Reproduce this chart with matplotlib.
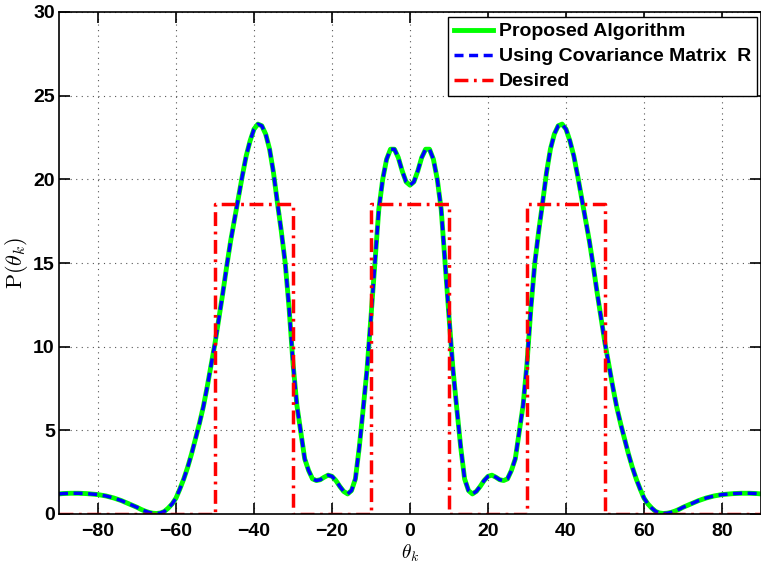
import numpy as np
import matplotlib
matplotlib.use("Agg")
import matplotlib.pyplot as plt

# spatial spectrum, theta = 0..90 deg (curve is symmetric)
theta_half = list(range(0, 91))
p_half = [19.65, 19.85, 20.5, 21.3, 21.8, 21.8, 21.2, 20.0, 18.2, 15.0,
          11.8, 8.7, 6.3, 4.0, 2.1, 1.4, 1.2, 1.35, 1.65, 2.0,
          2.25, 2.32, 2.2, 2.05, 2.0, 2.1, 2.6, 3.3, 4.9, 6.5,
          9.0, 12.3, 15.0, 16.9, 18.6, 20.4, 21.8, 22.7, 23.2, 23.3,
          23.0, 22.3, 21.4, 20.2, 18.9, 17.6, 16.3, 14.8, 13.2, 11.7,
          10.2, 8.9, 7.6, 6.4, 5.4, 4.5, 3.6, 2.8, 2.1, 1.5,
          0.95, 0.6, 0.35, 0.15, 0.06, 0.03, 0.05, 0.1, 0.18, 0.28,
          0.4, 0.5, 0.6, 0.7, 0.8, 0.88, 0.96, 1.02, 1.08, 1.12,
          1.16, 1.18, 1.2, 1.22, 1.23, 1.24, 1.24, 1.24, 1.23, 1.22, 1.2]

# desired pattern: three sectors of height 18.5
sectors = [(-50, -30), (-10, 10), (30, 50)]
desired_level = 18.5

theta = np.array([-t for t in theta_half[:0:-1]] + theta_half)
p_prop = np.array(p_half[:0:-1] + p_half)
p_cov = p_prop.copy()

des_x = [-90]
des_y = [0]
for a, b in sectors:
    des_x += [a, a, b, b]
    des_y += [0, desired_level, desired_level, 0]
des_x.append(90)
des_y.append(0)

plt.rcParams['font.family'] = ['Liberation Sans', 'DejaVu Sans']
plt.rcParams['mathtext.fontset'] = 'cm'

fig = plt.figure(figsize=(7.61, 5.65), dpi=100)
ax = fig.add_axes([59 / 761, 1 - 514 / 565, 702 / 761, 502 / 565])

ax.plot(theta, p_prop, color='#00ff00', lw=3.5, label='Proposed Algorithm')
ax.plot(theta, p_cov, color='#0000ff', lw=2.5, ls=(0, (2.6, 1.6)),
        label='Using Covariance Matrix  R')
ax.plot(des_x, des_y, color='#ff0000', lw=2.5, ls=(0, (4, 1.6, 0.8, 1.6)),
        label='Desired')

ax.set_xlim(-90, 90)
ax.set_ylim(0, 30)
ax.set_xticks([-80, -60, -40, -20, 0, 20, 40, 60, 80])
ax.set_yticks([0, 5, 10, 15, 20, 25, 30])
ax.set_xticklabels(['\u221280', '\u221260', '\u221240', '\u221220', '0',
                    '20', '40', '60', '80'])
ax.grid(True, ls=(0, (1, 4)), color='#555555', lw=0.8)
ax.tick_params(direction='in', length=8, width=1.2, top=True, right=True,
               labelsize=14)
ax.tick_params(axis='x', pad=6.5)
ax.tick_params(axis='y', pad=3)
for lab in ax.get_xticklabels() + ax.get_yticklabels():
    lab.set_fontweight('bold')
for s in ax.spines.values():
    s.set_linewidth(1.2)

ax.set_xlabel(r'$\theta_k$', fontsize=14)
ax.xaxis.set_label_coords(0.5, -0.057)
ax.set_ylabel(r'$\mathrm{P}(\theta_k)$', fontsize=16, labelpad=2)

leg = ax.legend(loc='upper right', bbox_to_anchor=(0.994, 0.99),
                fancybox=False, edgecolor='black', framealpha=1,
                prop={'weight': 'bold', 'size': 14}, handlelength=2.0,
                borderpad=0.3, labelspacing=0.38, handletextpad=0.3,
                borderaxespad=0)
leg.get_frame().set_linewidth(1.0)

fig.savefig('out.png', dpi=100)
